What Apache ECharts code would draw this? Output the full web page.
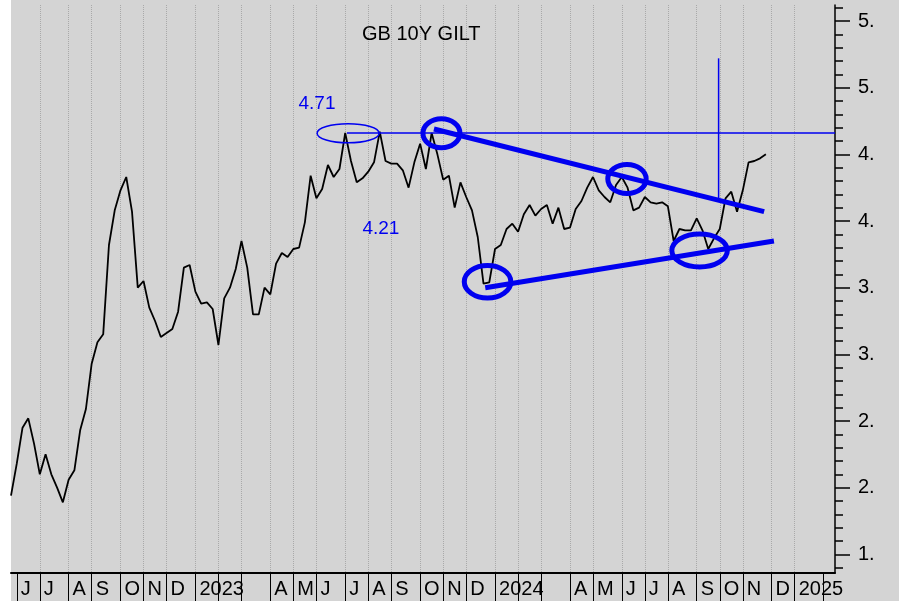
<!DOCTYPE html>
<html>
<head>
<meta charset="utf-8">
<title>GB 10Y GILT</title>
<script src="https://cdn.jsdelivr.net/npm/echarts@6.0.0/dist/echarts.min.js"></script>
<style>
  html, body { margin: 0; padding: 0; background: #fff; }
  #chart { width: 899px; height: 601px; }
</style>
</head>
<body>
<div id="chart"></div>
<script>
// weekly closes, one bar per friday starting 27 May 2022
var firstWeek = '2022-05-27';
var weekCount = 144;
var gilt10y = [
  1.94, 2.18, 2.45, 2.52, 2.33, 2.10, 2.25, 2.10, 2.00, 1.89,
  2.06, 2.13, 2.43, 2.59, 2.93, 3.09, 3.15, 3.82, 4.08, 4.23,
  4.33, 4.07, 3.50, 3.55, 3.35, 3.25, 3.13, 3.16, 3.19, 3.32,
  3.65, 3.67, 3.47, 3.38, 3.39, 3.34, 3.07, 3.42, 3.50, 3.64,
  3.85, 3.65, 3.30, 3.30, 3.50, 3.45, 3.68, 3.76, 3.73, 3.79,
  3.80, 3.99, 4.34, 4.17, 4.24, 4.42, 4.33, 4.39, 4.66, 4.45,
  4.29, 4.32, 4.37, 4.44, 4.67, 4.45, 4.43, 4.43, 4.38, 4.25,
  4.44, 4.58, 4.39, 4.66, 4.50, 4.31, 4.34, 4.10, 4.29, 4.18,
  4.08, 3.88, 3.53, 3.54, 3.79, 3.82, 3.94, 3.98, 3.92, 4.05,
  4.12, 4.04, 4.09, 4.12, 3.98, 4.10, 3.94, 3.95, 4.09, 4.15,
  4.25, 4.33, 4.23, 4.18, 4.14, 4.27, 4.33, 4.25, 4.08, 4.10,
  4.18, 4.14, 4.13, 4.14, 4.11, 3.85, 3.94, 3.93, 3.93, 4.02,
  3.93, 3.79, 3.87, 3.94, 4.17, 4.22, 4.07, 4.23, 4.44, 4.45,
  4.47, 4.50
];
var yMajorTicks = [1.5, 2, 2.5, 3, 3.5, 4, 4.5, 5, 5.5];
var yMinorTicks = [1.4, 1.6, 1.7, 1.8, 1.9, 2.1, 2.2, 2.3, 2.4, 2.6, 2.7, 2.8, 2.9,
  3.1, 3.2, 3.3, 3.4, 3.6, 3.7, 3.8, 3.9, 4.1, 4.2, 4.3, 4.4, 4.6, 4.7, 4.8, 4.9,
  5.1, 5.2, 5.3, 5.4, 5.6];
var monthLetters = ['J', 'F', 'M', 'A', 'M', 'J', 'J', 'A', 'S', 'O', 'N', 'D'];

// hand drawn marks, in (week number, yield)
var thinLines = [
  [[58.3, 4.66], [143, 4.66]],
  [[122.8, 5.22], [122.8, 4.17]]
];
var thickLines = [
  [[73.4, 4.69], [130.7, 4.07]],
  [[82.3, 3.50], [132.4, 3.85]]
];
var thinRings = [
  [[58.5, 4.658], 5.38, 0.072]
];
var thickRings = [
  [[74.7, 4.658], 3.21, 0.109],
  [[82.7, 3.544], 4.04, 0.122],
  [[106.9, 4.315], 3.33, 0.109],
  [[119.5, 3.779], 4.82, 0.124]
];
var notes = [
  [[53.1, 4.883], '4.71'],
  [[64.2, 3.944], '4.21']
];

var weeks = [];
var t0 = new Date(firstWeek + 'T00:00:00Z').getTime();
for (var i = 0; i < weekCount; i++) {
  weeks.push(new Date(t0 + i * 7 * 86400000).toISOString().slice(0, 10));
}
function monthOf(i) {
  return +weeks[i].slice(5, 7) - 1;
}
// first bar of every month gets the separator
function isMonthStart(i) {
  return i > 0 && monthOf(i) !== monthOf(i - 1);
}

var blue = '#0000f0';
var font = '"Liberation Sans", Arial, sans-serif';

var overlays = [];
thinLines.forEach(function (l) { overlays.push({kind: 'line', a: l[0], b: l[1], w: 1.5}); });
thickLines.forEach(function (l) { overlays.push({kind: 'line', a: l[0], b: l[1], w: 5}); });
thinRings.forEach(function (r) { overlays.push({kind: 'ring', c: r[0], rx: r[1], ry: r[2], w: 1.5}); });
thickRings.forEach(function (r) { overlays.push({kind: 'ring', c: r[0], rx: r[1], ry: r[2], w: 5}); });
notes.forEach(function (n) { overlays.push({kind: 'note', c: n[0], text: n[1]}); });

function drawOverlay(params, api) {
  var o = overlays[params.dataIndex];
  if (o.kind === 'line') {
    var p1 = api.coord(o.a), p2 = api.coord(o.b);
    return {
      type: 'line',
      shape: {x1: p1[0], y1: p1[1], x2: p2[0], y2: p2[1]},
      style: {stroke: blue, lineWidth: o.w}
    };
  }
  if (o.kind === 'ring') {
    var c = api.coord(o.c), s = api.size([o.rx * 2, o.ry * 2], o.c);
    return {
      type: 'ellipse',
      shape: {cx: c[0], cy: c[1], rx: s[0] / 2, ry: s[1] / 2},
      style: {stroke: blue, fill: null, lineWidth: o.w}
    };
  }
  var p = api.coord(o.c);
  return {
    type: 'text',
    x: p[0], y: p[1],
    style: {text: o.text, fill: blue, font: '19px ' + font, align: 'center', verticalAlign: 'middle'}
  };
}

var myChart = echarts.init(document.getElementById('chart'), null, {renderer: 'canvas'});
var option = {
  animation: false,
  backgroundColor: '#d4d4d4',
  title: {
    text: 'GB 10Y GILT',
    left: 357,
    top: 19,
    textStyle: {color: '#000', fontSize: 20, fontWeight: 'normal', fontFamily: font}
  },
  graphic: [{
    type: 'rect', left: 0, top: 0, z: -1,
    shape: {width: 11, height: 601},
    style: {fill: '#fff'}
  }],
  grid: {left: 11, right: 64, top: 5, bottom: 28, containLabel: false, outerBoundsMode: 'none'},
  xAxis: [{
    type: 'category',
    data: weeks,
    boundaryGap: false,
    axisLine: {show: true, onZero: false, lineStyle: {color: '#000', width: 2}},
    axisTick: {show: true, interval: isMonthStart, length: 28, lineStyle: {color: '#000', width: 1}},
    axisLabel: {
      interval: isMonthStart,
      align: 'left',
      padding: [0, 0, 0, 4],
      margin: 6,
      color: '#000',
      fontSize: 20,
      fontFamily: font,
      formatter: function (v) {
        var m = +v.slice(5, 7) - 1;
        if (m === 0) return v.slice(0, 4);
        if (m === 1 || m === 2) return '';
        return monthLetters[m];
      }
    },
    splitLine: {
      show: true, interval: isMonthStart, showMinLine: false, showMaxLine: false,
      lineStyle: {color: '#a9a9a9', type: 'dotted', width: 1}
    }
  }, {
    // plain week number scale for the drawn marks
    type: 'value', min: 0, max: weekCount - 1, show: false,
    axisLine: {onZero: false}
  }],
  yAxis: [{
    type: 'value',
    position: 'right',
    min: 1.36,
    max: 5.62,
    axisLine: {show: true, onZero: false, lineStyle: {color: '#000', width: 1.5}},
    axisTick: {show: true, length: 15, customValues: yMajorTicks, lineStyle: {color: '#000', width: 1.5}},
    axisLabel: {
      customValues: yMajorTicks,
      margin: 23,
      color: '#000',
      fontSize: 20,
      fontFamily: font,
      formatter: function (v) { return Math.floor(v + 1e-9) + '.'; }
    },
    splitLine: {show: false}
  }, {
    type: 'value',
    position: 'right',
    min: 1.36,
    max: 5.62,
    axisLine: {show: false, onZero: false},
    axisTick: {show: true, length: 8, customValues: yMinorTicks, lineStyle: {color: '#000', width: 1.5}},
    axisLabel: {show: false},
    splitLine: {show: false}
  }],
  series: [{
    name: 'GB 10Y',
    type: 'line',
    xAxisIndex: 0,
    yAxisIndex: 0,
    data: gilt10y,
    symbol: 'none',
    lineStyle: {color: '#000', width: 1.8},
    z: 3
  }, {
    name: 'marks',
    type: 'custom',
    xAxisIndex: 1,
    yAxisIndex: 0,
    silent: true,
    z: 5,
    renderItem: drawOverlay,
    data: overlays.map(function (o, i) { return [i]; })
  }]
};
myChart.setOption(option);
</script>
</body>
</html>
